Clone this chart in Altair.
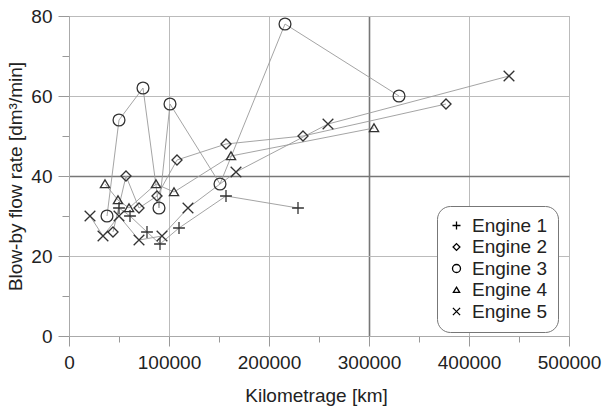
import altair as alt
import pandas as pd

# Blow-by flow rate measured on five engines at increasing kilometrage
engines = ["Engine 1", "Engine 2", "Engine 3", "Engine 4", "Engine 5"]

km_engine1 = [50000, 61000, 78000, 91000, 110000, 157000, 229000]
flow_engine1 = [32, 30, 26, 23, 27, 35, 32]

km_engine2 = [44000, 57000, 70000, 88000, 108000, 157000, 234000, 377000]
flow_engine2 = [26, 40, 32, 35, 44, 48, 50, 58]

km_engine3 = [38000, 50000, 74000, 90000, 101000, 151000, 216000, 330000]
flow_engine3 = [30, 54, 62, 32, 58, 38, 78, 60]

km_engine4 = [36000, 49000, 60000, 87000, 105000, 162000, 305000]
flow_engine4 = [38, 34, 32, 38, 36, 45, 52]

km_engine5 = [21000, 34000, 50000, 70000, 93000, 119000, 167000, 259000, 440000]
flow_engine5 = [30, 25, 30, 24, 25, 32, 41, 53, 65]

x_ticks = list(range(0, 500001, 50000))
y_ticks = list(range(0, 81, 10))

rows = []
for name, kms, flows in zip(
    engines,
    [km_engine1, km_engine2, km_engine3, km_engine4, km_engine5],
    [flow_engine1, flow_engine2, flow_engine3, flow_engine4, flow_engine5],
):
    for i, (k, f) in enumerate(zip(kms, flows)):
        rows.append({"engine": name, "km": k, "flow": f, "seq": i})
df = pd.DataFrame(rows)

FONT = "Liberation Sans"
TEXT = "#222222"

# marker outlines in unit coordinates
plus_path = "M-1,0L1,0M0,-1L0,1"
diamond_path = "M0,-0.85L0.85,0L0,0.85L-0.85,0Z"
triangle_path = "M0,-0.7L0.78,0.6L-0.78,0.6Z"
cross_path = "M-0.9,-0.9L0.9,0.9M-0.9,0.9L0.9,-0.9"
shapes = [plus_path, diamond_path, "circle", triangle_path, cross_path]

x_major = "datum.value % 100000 === 0"
y_major = "datum.value % 20 === 0"

x_axis = alt.Axis(
    values=x_ticks,
    format="d",
    labelExpr=f"{x_major} ? datum.label : ''",
    labelOverlap=False,
    labelFlush=False,
    labelFont=FONT,
    labelFontSize=19,
    labelColor=TEXT,
    labelPadding=7,
    tickSize={"condition": {"test": x_major, "value": 10}, "value": 6},
    tickColor="#999999",
    domainColor="#aaaaaa",
    grid=True,
    gridOpacity={"condition": {"test": x_major, "value": 1}, "value": 0},
    gridColor={"condition": {"test": "datum.value === 300000", "value": "#777777"}, "value": "#bbbbbb"},
    gridWidth={"condition": {"test": "datum.value === 300000", "value": 1.6}, "value": 1},
    title="Kilometrage [km]",
    titleFont=FONT,
    titleFontSize=19,
    titleFontWeight="normal",
    titleColor=TEXT,
    titleX=247,
    titleY=65,
    titleAlign="center",
    titleBaseline="alphabetic",
)

y_axis = alt.Axis(
    values=y_ticks,
    format="d",
    labelExpr=f"{y_major} ? datum.label : ''",
    labelOverlap=False,
    labelFlush=False,
    labelFont=FONT,
    labelFontSize=19,
    labelColor=TEXT,
    labelPadding=6,
    tickSize={"condition": {"test": y_major, "value": 11}, "value": 7},
    tickColor="#999999",
    domainColor="#aaaaaa",
    grid=True,
    gridOpacity={"condition": {"test": y_major, "value": 1}, "value": 0},
    gridColor={"condition": {"test": "datum.value === 40", "value": "#777777"}, "value": "#bbbbbb"},
    gridWidth={"condition": {"test": "datum.value === 40", "value": 1.6}, "value": 1},
    title="Blow-by flow rate [dm³/min]",
    titleFont=FONT,
    titleFontSize=19,
    titleFontWeight="normal",
    titleColor=TEXT,
    titleAngle=-90,
    titleX=-48,
    titleY=160,
    titleAlign="center",
    titleBaseline="alphabetic",
)

x_enc = alt.X("km:Q", scale=alt.Scale(domain=[0, 500000], nice=False, zero=True), axis=x_axis)
y_enc = alt.Y("flow:Q", scale=alt.Scale(domain=[0, 80], nice=False), axis=y_axis)

lines = alt.Chart(df).mark_line(color="#9a9a9a", strokeWidth=0.9).encode(
    x=x_enc,
    y=y_enc,
    detail="engine:N",
    order="seq:Q",
)

points = alt.Chart(df).mark_point(
    filled=False, size=140, strokeWidth=1.3, color="#333333", opacity=1
).encode(
    x=x_enc,
    y=y_enc,
    shape=alt.Shape(
        "engine:N",
        scale=alt.Scale(domain=engines, range=shapes),
        legend=alt.Legend(
            title=None,
            orient="none",
            legendX=368,
            legendY=190,
            strokeColor="#777777",
            fillColor="white",
            cornerRadius=13,
            padding=10,
            rowPadding=1.5,
            symbolSize=64,
            symbolStrokeWidth=1.3,
            symbolStrokeColor="black",
            symbolOffset=0,
            labelOffset=6,
            labelFont=FONT,
            labelFontSize=19,
            labelColor=TEXT,
        ),
    ),
)

chart = (
    alt.layer(lines, points)
    .properties(
        width=500,
        height=320,
        padding={"left": 69, "top": 16, "right": 34, "bottom": 74},
        autosize=alt.AutoSizeParams(type="none"),
        background="white",
    )
    .configure_view(stroke="#aaaaaa", strokeWidth=1)
)

chart.save("out.html", embed_options={"renderer": "svg", "actions": False})
